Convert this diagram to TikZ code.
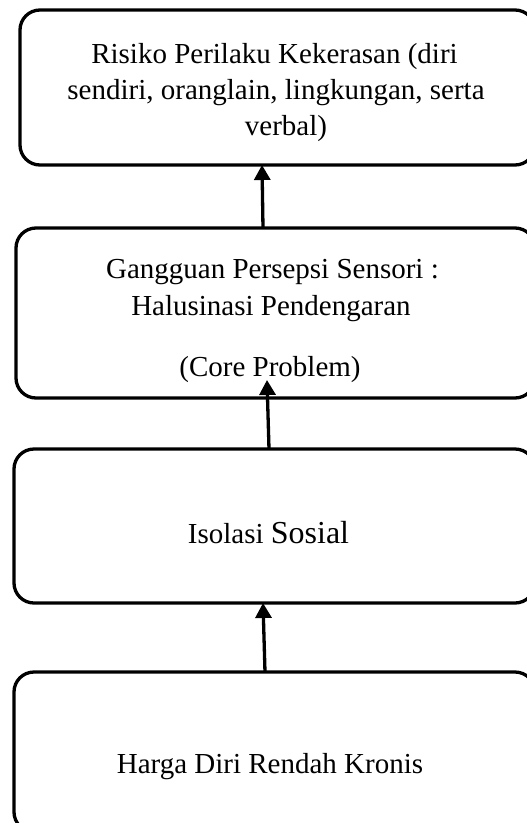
\documentclass[tikz,border=0pt]{standalone}
\usepackage{fontspec}
\setmainfont{Liberation Serif}
\usetikzlibrary{arrows.meta}
\tikzset{
  box/.style={draw=black, line width=3.3pt, rounded corners=20pt, inner sep=0pt, outer sep=0pt, fill=white},
  txt/.style={anchor=base, inner sep=0pt, font=\fontsize{29}{37}\selectfont},
  arr/.style={line width=3.3pt, -{Triangle[length=15pt,width=16pt]}}
}
\begin{document}
\begin{tikzpicture}[x=1pt,y=-1pt]
\useasboundingbox (0,0) rectangle (527,823);
\clip (0,0) rectangle (527,823);
\fill[white] (0,0) rectangle (527,823);
% boxes
\node[box, minimum width=515pt, minimum height=155pt] (b1) at (277.5,87.5) {};
\node[box, minimum width=519pt, minimum height=170pt] (b2) at (275.5,313) {};
\node[box, minimum width=521pt, minimum height=154pt] (b3) at (274.5,526) {};
\node[box, minimum width=521pt, minimum height=160pt] (b4) at (274.5,752) {};
% texts
\node[txt] (t1a) at (274.5,63) {Risiko Perilaku Kekerasan (diri};
\node[txt] (t1b) at (276,99) {sendiri, oranglain, lingkungan, serta};
\node[txt] (t1c) at (286,135) {verbal)};
\node[txt] (t2a) at (272.5,278) {Gangguan Persepsi Sensori :};
\node[txt] (t2b) at (271,315) {Halusinasi Pendengaran};
\node[txt] (t2c) at (270,376) {(Core Problem)};
\node[txt] (t3) at (268.5,543) {Isolasi {\fontsize{32}{37}\selectfont Sosial}};
\node[txt] (t4) at (270,773) {Harga Diri Rendah Kronis};
% arrows
\draw[arr] ([xshift=-12.5pt]b2.north) -- ([xshift=-15.5pt]b1.south);
\draw[arr] ([xshift=-5.5pt]b3.north) -- ([xshift=-8.5pt,yshift=18pt]b2.south);
\draw[arr] ([xshift=-9.5pt]b4.north) -- ([xshift=-11.5pt]b3.south);
\end{tikzpicture}
\end{document}
